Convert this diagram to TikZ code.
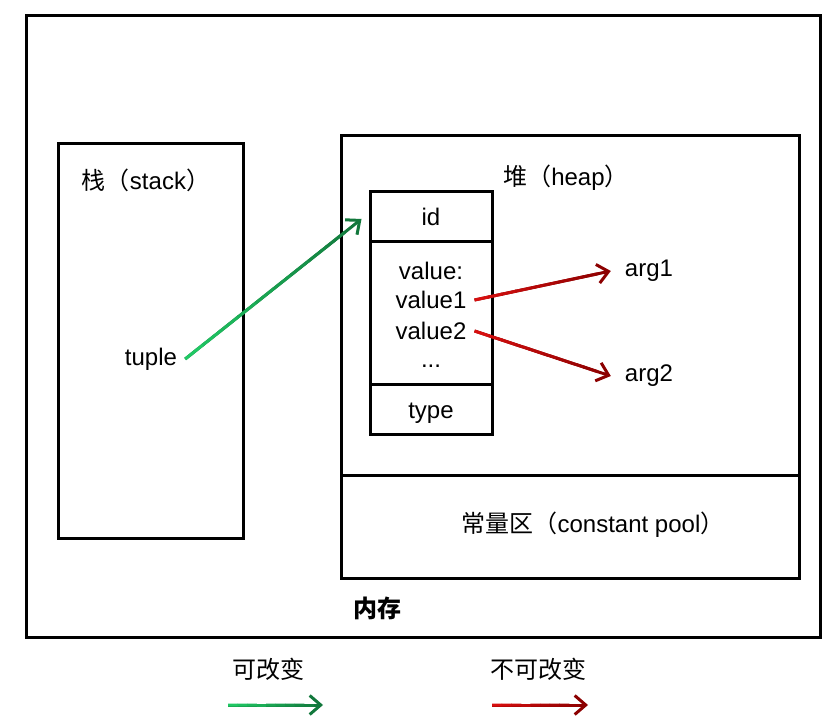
\documentclass[tikz,border=0pt]{standalone}
\usepackage{fontspec}
\setmainfont{Liberation Sans}
\newfontfamily\cjk{Noto Sans CJK SC}
\usetikzlibrary{arrows.meta,calc}
\definecolor{mutlight}{RGB}{32,200,100}
\definecolor{mutdark}{RGB}{18,120,60}
\definecolor{immlight}{RGB}{215,15,15}
\definecolor{immdark}{RGB}{140,0,0}

\begin{document}
\begin{tikzpicture}[x=0.5pt,y=-0.5pt,line width=1.5pt,font=\fontsize{12}{14}\selectfont,
  >={Straight Barb[length=5.5pt,width=9.5pt]},
  cell/.style={draw,minimum width=61pt,inner sep=0pt}]
\useasboundingbox (0,0) rectangle (840,726);
% memory areas
\draw (26,16) rectangle (820,637);
\draw (58,144) rectangle (243,538);
\draw (341,136) rectangle (799,578);
\draw (341,476) -- (799,476);
\node (stack) at (146,180) {{\cjk 栈（}stack{\cjk ）}};
\node (heap) at (566,178) {{\cjk 堆（}heap{\cjk ）}};
\node (pool) at (593,525) {{\cjk 常量区（}constant pool{\cjk ）}};
\node (mem) at (377,608) {\cjk\bfseries 内存};
\node (tuple) at (151,359) {tuple};
% tuple object
\node[cell,minimum height=25pt] (id) at (431,217) {id};
\node[cell,minimum height=71.5pt] (val) at (431,313.5) {};
\node[cell,minimum height=25pt] (type) at (431,410) {};
\node (tlabel) at (431,413) {type};
\node (vlabel) at (431,271) {value:};
\node (v1) at (431,300) {value1};
\node (v2) at (431,331) {value2};
\node (dots) at (431,366) {...};
\node (arg1) at (649,271) {arg1};
\node (arg2) at (649,376) {arg2};
% legend
\node (mut) at (268,669) {\cjk 可改变};
\node (imm) at (538,669) {\cjk 不可改变};
\coordinate (ms) at (228,705);
\coordinate (me) at (323,705);
\coordinate (is) at (492,705);
\coordinate (ie) at (588,705);
% connectors
\coordinate (gs) at (tuple.east);
\coordinate (ge) at ([xshift=-3.5pt,yshift=-1pt]id.west);
\coordinate (r1s) at (v1.east);
\coordinate (r1e) at ([xshift=-3pt]arg1.west);
\coordinate (r2s) at (v2.east);
\coordinate (r2e) at ([xshift=-3pt]arg2.west);
\foreach \a/\b/\ca/\cb in {gs/ge/mutlight/mutdark,r1s/r1e/immlight/immdark,r2s/r2e/immlight/immdark,ms/me/mutlight/mutdark,is/ie/immlight/immdark}{
  \draw[->,\cb] (\a) -- (\b);
  \foreach \k in {0,...,8}{
    \pgfmathsetmacro\pa{\k/10}
    \pgfmathsetmacro\pb{(\k+1.05)/10}
    \pgfmathtruncatemacro\mix{\k*11}
    \draw[\cb!\mix!\ca] ($(\a)!\pa!(\b)$) -- ($(\a)!\pb!(\b)$);
  }
}
\end{tikzpicture}
\end{document}
